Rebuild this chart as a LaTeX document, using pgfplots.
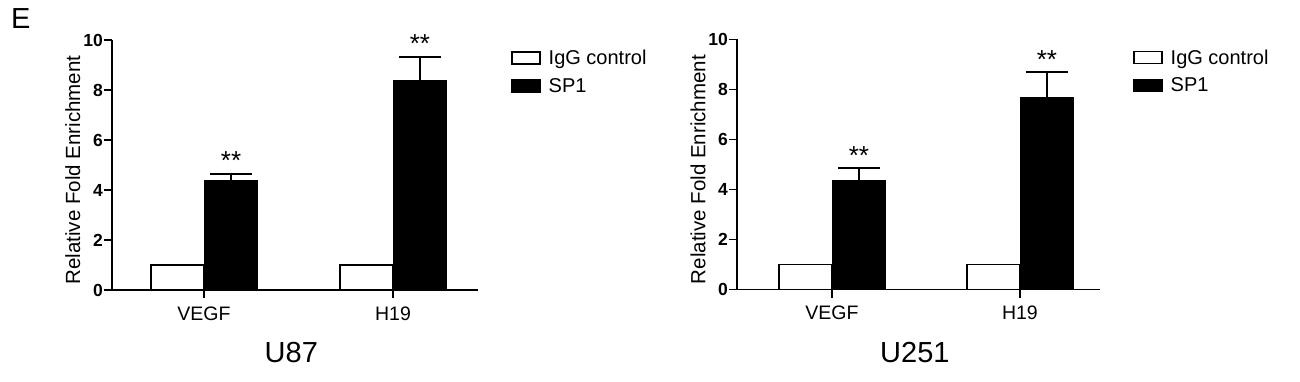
\documentclass[border=0pt]{standalone}
\usepackage{pgfplots}
\usepackage{pgfplotstable}
\pgfplotsset{compat=1.18}
\usepackage{fontspec}
\setmainfont{Liberation Sans}

\pgfplotstableread{
x igg sp1 err
0 1.0 4.36 0.29
1 1.0 8.37 0.96
}\tabA
\pgfplotstableread{
x igg sp1 err
0 1.0 4.33 0.53
1 1.0 7.68 1.02
}\tabB

\pgfplotsset{
  panel/.style={
    scale only axis, height=250pt, clip=false,
    ybar, bar width=53pt,
    axis x line*=bottom, axis y line*=left,
    axis line style={line width=1.8pt, black},
    ymin=0, ymax=10, ytick={0,2,4,6,8,10},
    xtick={0,1}, xticklabels={VEGF,H19},
    tick style={line width=1.8pt, black}, tick align=outside, major tick length=8pt,
    yticklabel={\textbf{\pgfmathprintnumber[assume math mode=true]{\tick}}},
    yticklabel style={font=\fontsize{17.5}{17.5}\selectfont, inner sep=1pt},
    xticklabel style={font=\fontsize{19.5}{19.5}\selectfont, yshift=-5pt},
    ylabel={Relative Fold Enrichment},
    ylabel style={font=\fontsize{20.5}{20.5}\selectfont, at={(axis description cs:-0.107,0.48)}, anchor=center},
    xlabel style={font=\fontsize{29}{29}\selectfont, at={(axis description cs:0.49,-0.252)}, anchor=center},
    legend style={at={(1,1)}, anchor=north west, xshift=30pt, yshift=-6pt, draw=none, fill=none,
      font=\fontsize{20}{20}\selectfont, row sep=8pt, column sep=6pt},
    legend cell align=left,
  },
  iggbar/.style={fill=white, draw=black, line width=1.6pt, bar shift=-26.5pt,
    legend image code/.code={\draw[fill=white,draw=black,line width=1.5pt] (0pt,-6pt) rectangle (28pt,6pt);}},
  spbar/.style={fill=black, draw=black, line width=1.6pt, bar shift=27pt,
    error bars/.cd, y dir=plus, y explicit,
    error bar style={line width=1.8pt, black},
    error mark options={rotate=90, mark size=21pt, line width=1.8pt, black},
    /pgfplots/legend image code/.code={\draw[fill=black,draw=black,line width=1.5pt] (0pt,-6pt) rectangle (28pt,6pt);}},
}

\begin{document}
\begin{tikzpicture}
\useasboundingbox (0,0) rectangle (1300pt,381pt);
\node[anchor=north west, inner sep=0pt, font=\fontsize{29}{29}\selectfont] at (11pt,373pt) {E};

\begin{axis}[panel, at={(112pt,91pt)}, anchor=south west, width=366pt,
  xmin=-0.487, xmax=1.45, xlabel={U87}]
\addplot[iggbar] table[x=x, y=igg]{\tabA};
\addplot[spbar] table[x=x, y=sp1, y error=err]{\tabA};
\legend{IgG control, SP1}
\node[anchor=base, font=\fontsize{26}{26}\selectfont, xshift=27pt, yshift=4pt] at (axis cs:0,4.65) {**};
\node[anchor=base, font=\fontsize{26}{26}\selectfont, xshift=27pt, yshift=4pt] at (axis cs:1,9.33) {**};
\end{axis}

\begin{axis}[panel, at={(737pt,91.5pt)}, anchor=south west, width=363pt,
  xmin=-0.505, xmax=1.426, xlabel={U251}]
\addplot[iggbar] table[x=x, y=igg]{\tabB};
\addplot[spbar] table[x=x, y=sp1, y error=err]{\tabB};
\legend{IgG control, SP1}
\node[anchor=base, font=\fontsize{26}{26}\selectfont, xshift=27pt, yshift=4pt] at (axis cs:0,4.86) {**};
\node[anchor=base, font=\fontsize{26}{26}\selectfont, xshift=27pt, yshift=4pt] at (axis cs:1,8.70) {**};
\end{axis}
\end{tikzpicture}
\end{document}
